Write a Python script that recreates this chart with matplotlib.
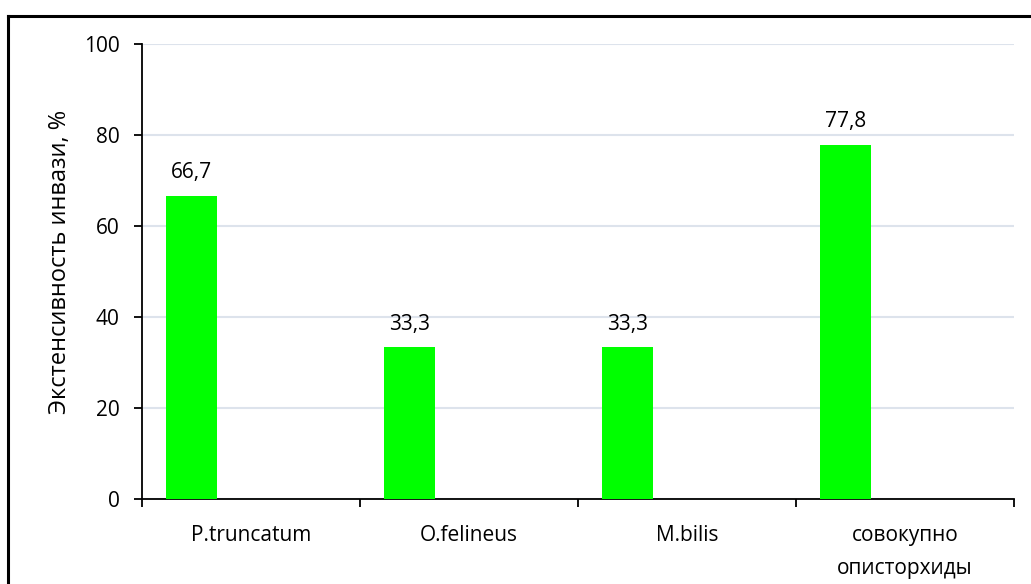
import numpy as np
import matplotlib.pyplot as plt
from matplotlib.lines import Line2D
from matplotlib.ticker import FixedLocator, NullFormatter

plt.rcParams['font.family'] = ['Open Sans', 'DejaVu Sans']

# экстенсивность инвазии по видам
categories = ['P.truncatum', 'O.felineus', 'M.bilis', 'совокупно\nописторхиды']
values = [66.7, 33.3, 33.3, 77.8]
value_labels = ['66,7', '33,3', '33,3', '77,8']
yticks = [0, 20, 40, 60, 80, 100]

fig = plt.figure(figsize=(10.31, 5.84), dpi=100)
ax = fig.add_axes([0.1377, 0.1455, 0.8458, 0.7792])

x = np.arange(len(categories))
bar_w = 0.235
bars = ax.bar(x + 0.11, values, width=bar_w, align='edge', color='#00ff00', zorder=3)

for b, lab in zip(bars, value_labels):
    ax.annotate(lab, (b.get_x() + b.get_width() / 2, b.get_height()),
                xytext=(0, 9), textcoords='offset points',
                ha='center', va='bottom', fontsize=15)

ax.set_xlim(0, len(categories))
ax.set_ylim(0, 100)
ax.set_yticks(yticks)
ax.set_yticklabels([str(t) for t in yticks], fontsize=15)
ax.yaxis.grid(True, color='#dde3ec', linewidth=1.5, zorder=0)

# подписи категорий по центрам, засечки на границах
ax.set_xticks(x + 0.5)
ax.set_xticklabels(categories, fontsize=15, linespacing=1.75, va='top')
ax.xaxis.set_minor_locator(FixedLocator(np.arange(len(categories) + 1)))
ax.xaxis.set_minor_formatter(NullFormatter())
ax.tick_params(axis='x', which='major', length=0, pad=19)
ax.tick_params(axis='x', which='minor', length=6, width=1.3, direction='out')
ax.tick_params(axis='y', length=6, width=1.3, direction='out', pad=10)

for s in ['top', 'right']:
    ax.spines[s].set_visible(False)
for s in ['left', 'bottom']:
    ax.spines[s].set_linewidth(1.3)

ax.set_ylabel('Экстенсивность инвази, %', fontsize=17)
ax.yaxis.set_label_coords(-0.08, 0.52)

# рамка
fig.add_artist(Line2D([8 / 1031, 1.0], [1 - 15.5 / 584, 1 - 15.5 / 584],
                      transform=fig.transFigure, color='black', linewidth=2.2))
fig.add_artist(Line2D([8 / 1031, 8 / 1031], [0.0, 1 - 15.5 / 584],
                      transform=fig.transFigure, color='black', linewidth=2.2))

fig.savefig('out.png', dpi=100)
